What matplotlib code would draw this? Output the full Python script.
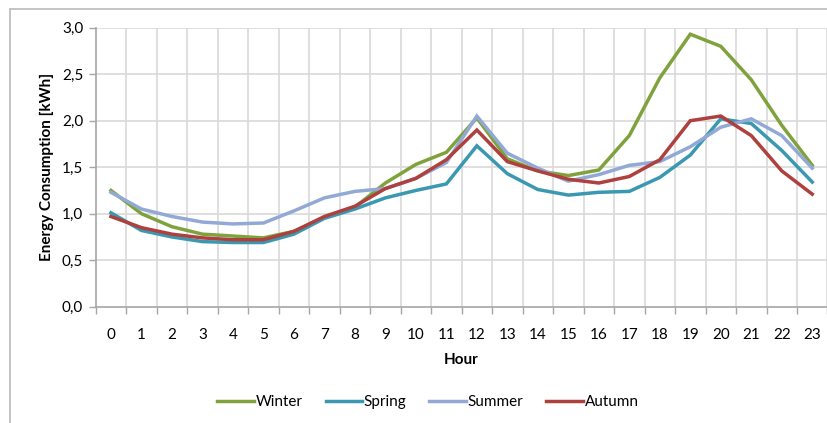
import matplotlib
matplotlib.use("Agg")
import matplotlib.pyplot as plt
from matplotlib.lines import Line2D
from matplotlib.ticker import FuncFormatter, MultipleLocator

plt.rcParams['font.family'] = ['Lato', 'DejaVu Sans']

hours = list(range(24))
hour_labels = [str(h) for h in hours]

winter = [1.25, 1.00, 0.86, 0.78, 0.76, 0.74, 0.81, 0.96, 1.07, 1.33, 1.53, 1.66, 2.03,
          1.59, 1.46, 1.41, 1.47, 1.84, 2.46, 2.93, 2.80, 2.44, 1.95, 1.52]
spring = [1.01, 0.82, 0.75, 0.70, 0.69, 0.69, 0.78, 0.95, 1.05, 1.17, 1.25, 1.32, 1.73,
          1.43, 1.26, 1.20, 1.23, 1.24, 1.39, 1.63, 2.02, 1.97, 1.68, 1.34]
summer = [1.23, 1.05, 0.97, 0.91, 0.89, 0.90, 1.03, 1.17, 1.24, 1.27, 1.38, 1.55, 2.05,
          1.65, 1.49, 1.35, 1.42, 1.52, 1.56, 1.72, 1.93, 2.02, 1.84, 1.49]
autumn = [0.97, 0.85, 0.78, 0.74, 0.72, 0.72, 0.81, 0.97, 1.08, 1.27, 1.38, 1.58, 1.90,
          1.56, 1.46, 1.37, 1.33, 1.40, 1.58, 2.00, 2.05, 1.84, 1.46, 1.21]

series = [("Winter", winter, "#7FA23C"),
          ("Spring", spring, "#3A98B0"),
          ("Summer", summer, "#92A9D6"),
          ("Autumn", autumn, "#AE403E")]

fig = plt.figure(figsize=(8.28, 4.23), dpi=100)
ax = fig.add_axes([95.7/828, 1-306.7/423, (827.5-95.7)/828, (306.7-27.7)/423])

for name, vals, col in series:
    ax.plot(hours, vals, color=col, lw=2.5, label=name, solid_joinstyle='miter')

ax.set_xlim(-0.5, 23.5)
ax.set_ylim(0, 3.0)
ax.yaxis.set_major_locator(MultipleLocator(0.5))
ax.yaxis.set_major_formatter(FuncFormatter(lambda v, p: f"{v:.1f}".replace('.', ',')))
ax.set_xticks(hours)
ax.set_xticklabels(hour_labels)
ax.set_xticks([h - 0.5 for h in hours] + [23.5], minor=True)
ax.tick_params(axis='x', which='major', length=0, pad=15, labelsize=11, colors='black')
ax.tick_params(axis='x', which='minor', length=5, width=1, color='#A6A6A6', direction='out')
ax.tick_params(axis='y', which='major', length=5, width=1, color='#A6A6A6', pad=4, labelsize=11)

ax.grid(False)
for y in [0.5, 1.0, 1.5, 2.0, 2.5, 3.0]:
    ax.axhline(y, color='#D9D9D9', lw=1.2, zorder=0)
for x in [h + 0.5 for h in hours]:
    ax.axvline(x, color='#D9D9D9', lw=1.2, zorder=0)

for s in ['top', 'right']:
    ax.spines[s].set_visible(False)
for s in ['left', 'bottom']:
    ax.spines[s].set_color('#A6A6A6')
    ax.spines[s].set_linewidth(1.2)

ax.set_ylabel("Energy Consumption [kWh]", fontsize=11, fontweight='bold', labelpad=6)
ax.set_xlabel("Hour", fontsize=11, fontweight='bold', labelpad=8)

leg = fig.legend(loc='center', bbox_to_anchor=(428/828, 1-402/423), ncol=4, frameon=False,
                 fontsize=11, handlelength=2.4, handletextpad=0.1, columnspacing=1.5)

# chart border
fig.add_artist(Line2D([10/828, 10/828], [0, 1-9/423], transform=fig.transFigure, color='#BFBFBF', lw=1.3))
fig.add_artist(Line2D([10/828, 1], [1-9/423, 1-9/423], transform=fig.transFigure, color='#BFBFBF', lw=1.3))

fig.savefig("out.png", dpi=100)
